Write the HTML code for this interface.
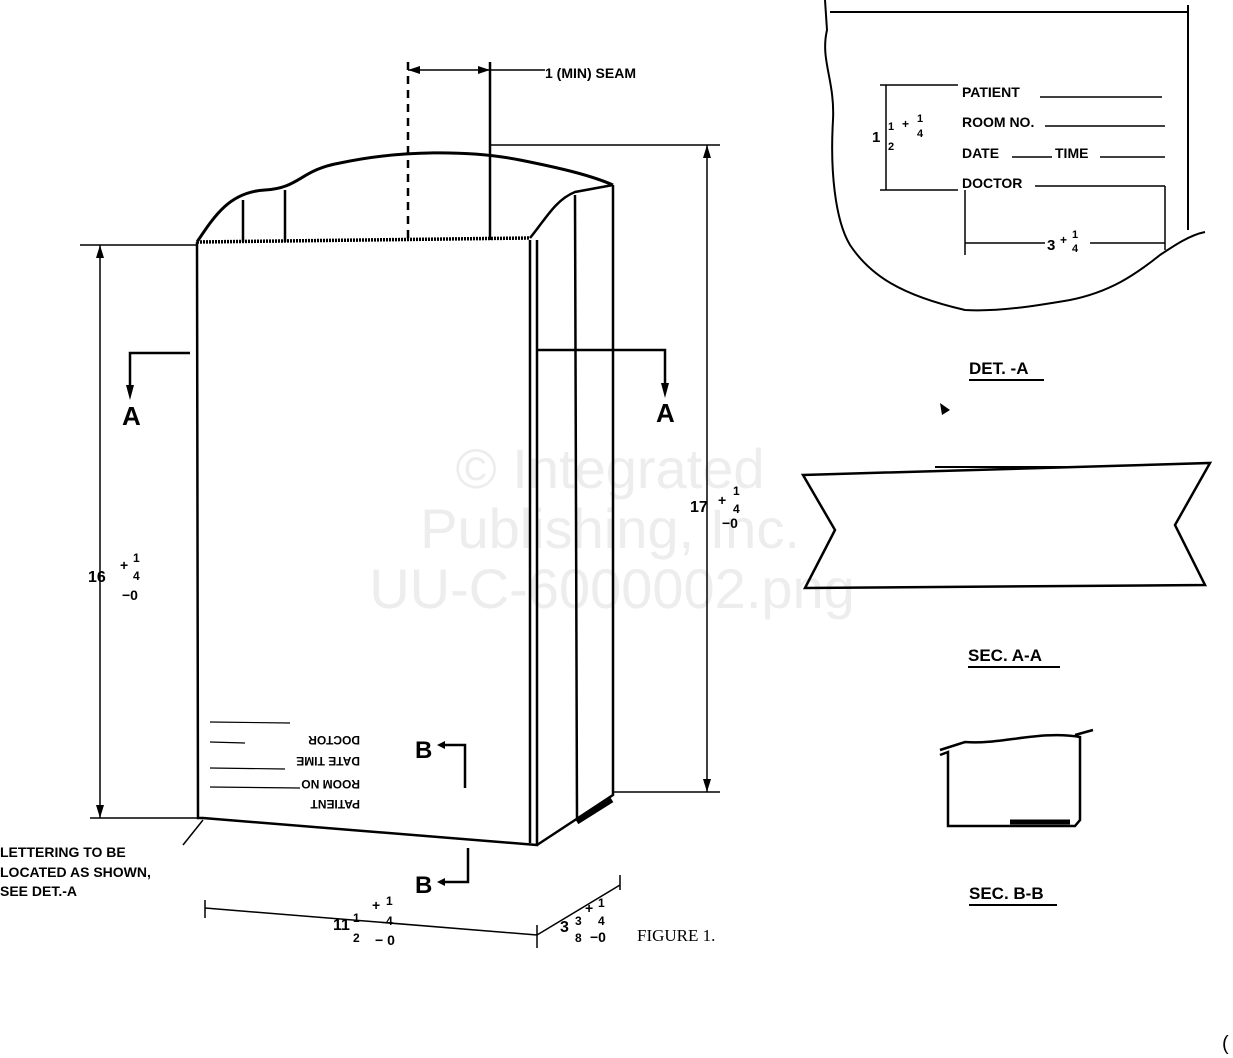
<!DOCTYPE html>
<html><head><meta charset="utf-8"><style>
html,body{margin:0;padding:0;background:#fff;}
svg{display:block}
text{font-family:"Liberation Sans",sans-serif;fill:#000;}
text.wm{fill:#ededed;}
</style></head><body>
<svg width="1233" height="1058" viewBox="0 0 1233 1058" xmlns="http://www.w3.org/2000/svg">
<!-- watermark -->
<g font-size="56" text-anchor="middle">
<text class="wm" x="610" y="488" style="fill:#ededed">© Integrated</text>
<text class="wm" x="610" y="548" style="fill:#ededed">Publishing, Inc.</text>
<text class="wm" x="612" y="608" style="fill:#ededed">UU-C-6000002.png</text>
</g>
<g stroke="#000" fill="none" stroke-width="2.5">
<path d="M197,242 L198,818 L203,818 L537,845 L537,240 M530,240 L530,843"/>
<path d="M197,242 L530,238" stroke-width="3.5" stroke-dasharray="2 1"/>
<path d="M197,242 C215,215 230,192 265,190 C300,188 300,170 340,163 C400,150 470,150 520,160 C560,168 590,175 613,185" stroke-width="3"/>
<path d="M530,238 C545,220 555,200 575,192 L613,185"/>
<path d="M613,185 L613,795 L537,845"/>
<path d="M575,195 L577,820"/>
<path d="M577,822 L612,800" stroke-width="5"/>
<path d="M243,200 L243,242 M285,190 L285,242 M490,62 L490,240"/>
<path d="M408,62 L408,240" stroke-dasharray="8 6"/>
<path d="M408,70 L545,70" stroke-width="1.5"/>
<path d="M80,245 L197,245 M100,245 L100,818 M90,818 L197,818" stroke-width="1.5"/>
<path d="M490,145 L720,145 M707,145 L707,792 M613,792 L720,792" stroke-width="1.5"/>
<path d="M190,353 L130,353 L130,390 M537,350 L665,350 L665,388"/>
<path d="M445,745 L465,745 L465,788 M445,882 L468,882 L468,848"/>
<path d="M205,900 L205,918 M205,908 L537,935 M537,925 L537,948 M537,935 L620,885 M620,875 L620,890" stroke-width="1.5"/>
<path d="M183,845 L203,820" stroke-width="1.5"/>
<path d="M210,722 L290,723 M210,742 L245,743 M210,768 L285,769 M210,787 L300,788" stroke-width="1.2"/>
<path d="M825,0 L827,30 C820,60 835,80 833,120 C830,170 835,220 850,245 C870,275 900,295 965,310 C1000,312 1040,305 1070,300 C1110,292 1135,275 1160,255 C1175,245 1190,235 1205,232" stroke-width="2"/>
<path d="M830,12 L1188,12 M1188,5 L1188,230" stroke-width="2"/>
<path d="M880,85 L958,85 M880,190 L958,190 M886,85 L886,190 M1040,97 L1162,97 M1045,126 L1165,126 M1012,157 L1052,157 M1100,157 L1165,157 M1035,186 L1165,186 M965,190 L965,255 M1165,186 L1165,250 M965,243 L1045,243 M1090,243 L1165,243" stroke-width="1.5"/>
<path d="M803,475 L1210,463 L1175,525 L1205,585 L805,588 L835,530 Z" stroke-width="2.5"/>
<path d="M935,467 L1070,467" stroke-width="2"/>
<path d="M940,755 L948,752 L948,826 L1075,826 L1080,820 L1080,737 C1040,730 1000,745 965,742 L940,750 M1075,735 L1093,730" stroke-width="2.5"/>
<path d="M1010,822 L1070,822" stroke-width="5"/>
<path d="M969,380 L1044,380 M968,667 L1060,667 M969,905 L1057,905" stroke-width="2"/>
</g>
<g fill="#000">
<polygon points="126,385 134,385 130,400"/>
<polygon points="661,383 669,383 665,398"/>
<polygon points="445,741 445,749 437,745"/>
<polygon points="445,878 445,886 437,882"/>
<polygon points="408,70 420,66 420,74"/>
<polygon points="490,70 478,66 478,74"/>
<polygon points="96,258 104,258 100,245"/>
<polygon points="96,805 104,805 100,818"/>
<polygon points="703,158 711,158 707,145"/>
<polygon points="703,779 711,779 707,792"/>
<polygon points="940,403 950,410 942,415"/>
</g>
<g font-weight="bold">
<text x="122" y="425" font-size="26">A</text>
<text x="656" y="422" font-size="26">A</text>
<text x="415" y="758" font-size="24">B</text>
<text x="415" y="893" font-size="24">B</text>
<text x="545" y="78" font-size="14">1 (MIN) SEAM</text>
<text x="88" y="582" font-size="16">16</text>
<text x="120" y="570" font-size="14">+</text><text x="133" y="562" font-size="12">1</text><text x="133" y="580" font-size="12">4</text>
<text x="122" y="600" font-size="14">−0</text>
<text x="690" y="512" font-size="16">17</text>
<text x="718" y="505" font-size="14">+</text><text x="733" y="495" font-size="12">1</text><text x="733" y="513" font-size="12">4</text>
<text x="722" y="528" font-size="14">−0</text>
<text x="333" y="930" font-size="16">11</text>
<text x="353" y="922" font-size="12">1</text><text x="353" y="942" font-size="12">2</text>
<text x="372" y="910" font-size="14">+</text><text x="386" y="905" font-size="12">1</text><text x="386" y="925" font-size="12">4</text>
<text x="375" y="945" font-size="14">− 0</text>
<text x="560" y="932" font-size="16">3</text>
<text x="575" y="925" font-size="12">3</text><text x="575" y="942" font-size="12">8</text>
<text x="585" y="913" font-size="14">+</text><text x="598" y="907" font-size="12">1</text><text x="598" y="925" font-size="12">4</text>
<text x="590" y="942" font-size="14">−0</text>
<text x="0" y="857" font-size="14">LETTERING TO BE</text>
<text x="0" y="877" font-size="14">LOCATED AS SHOWN,</text>
<text x="0" y="896" font-size="14">SEE DET.-A</text>
<text x="962" y="97" font-size="14">PATIENT</text>
<text x="962" y="127" font-size="14">ROOM  NO.</text>
<text x="962" y="158" font-size="14">DATE</text>
<text x="1055" y="158" font-size="14">TIME</text>
<text x="962" y="188" font-size="14">DOCTOR</text>
<text x="872" y="142" font-size="15">1</text>
<text x="888" y="130" font-size="11">1</text><text x="888" y="150" font-size="11">2</text>
<text x="902" y="128" font-size="12">+</text><text x="917" y="122" font-size="11">1</text><text x="917" y="137" font-size="11">4</text>
<text x="1047" y="250" font-size="15">3</text><text x="1060" y="244" font-size="12">+</text><text x="1072" y="238" font-size="11">1</text><text x="1072" y="252" font-size="11">4</text>
<text x="969" y="374" font-size="17">DET. -A</text>
<text x="968" y="661" font-size="17">SEC. A-A</text>
<text x="969" y="899" font-size="17">SEC. B-B</text>
</g>
<text x="637" y="941" font-size="17" style="font-family:'Liberation Serif',serif">FIGURE 1.</text>
<g font-weight="bold" font-size="12" transform="rotate(180 285 765)">
<text x="210" y="730">PATIENT</text>
<text x="210" y="750">ROOM  NO</text>
<text x="210" y="773">DATE   TIME</text>
<text x="210" y="794">DOCTOR</text>
</g>
<text x="1222" y="1050" font-size="20">(</text>
</svg>
</body></html>
